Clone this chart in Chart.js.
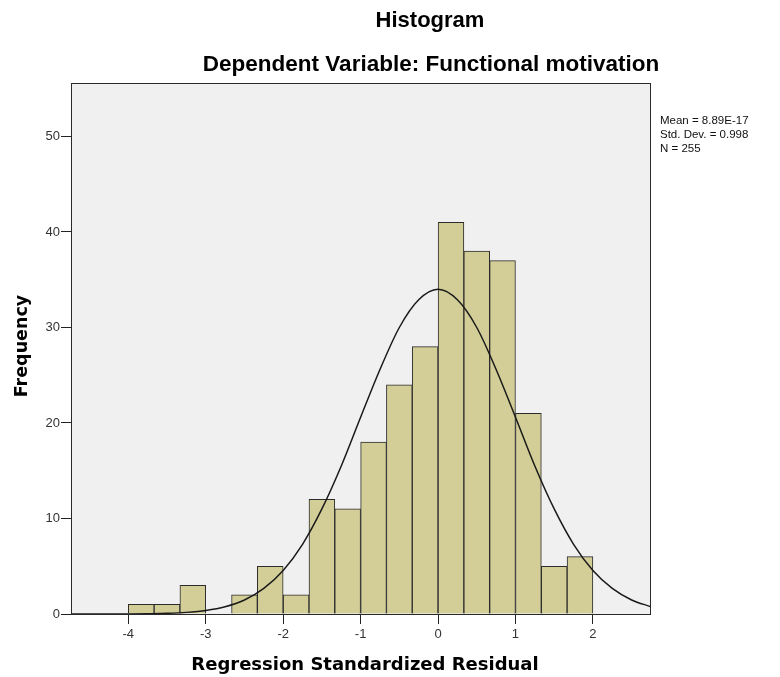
<!DOCTYPE html>
<html>
<head>
<meta charset="utf-8">
<script src="https://cdn.jsdelivr.net/npm/chart.js@4.4.1/dist/chart.umd.min.js"></script>
<style>
  html, body { margin: 0; padding: 0; background: #ffffff; }
  #wrap { position: relative; width: 780px; height: 677px; }
</style>
</head>
<body>
<div id="wrap"><canvas id="c" width="780" height="677"></canvas></div>
<script>
// ---- data ----
const binCenters = [-3.833, -3.5, -3.167, -2.833, -2.5, -2.167, -1.833, -1.5, -1.167,
                    -0.833, -0.5, -0.167, 0.167, 0.5, 0.833, 1.167, 1.5, 1.833];
const frequencies = [1, 1, 3, 0, 2, 5, 2, 12, 11, 18, 24, 28, 41, 38, 37, 21, 5, 6];

const curveX = [-4.75, -4.5, -4.25, -4, -3.75, -3.5, -3.25, -3, -2.75, -2.5, -2.25, -2,
                -1.75, -1.5, -1.25, -1, -0.75, -0.5, -0.25, 0, 0.25, 0.5, 0.75, 1,
                1.25, 1.5, 1.75, 2, 2.25, 2.5, 2.75];
const curveY = [0.0, 0.0, 0.0, 0.01, 0.03, 0.07, 0.17, 0.37, 0.76, 1.47, 2.68, 4.56,
                7.3, 11.0, 15.5, 20.6, 25.6, 30.0, 32.9, 34.0, 32.9, 30.0, 25.6, 20.6,
                15.5, 11.0, 7.3, 4.56, 2.68, 1.47, 0.76];

const xTickValues = [-4, -3, -2, -1, 0, 1, 2];
const yTickValues = [0, 10, 20, 30, 40, 50];

const titleText = 'Histogram';
const subtitleText = 'Dependent Variable: Functional motivation';
const xTitle = 'Regression Standardized Residual';
const yTitle = 'Frequency';
const statsLines = ['Mean = 8.89E-17', 'Std. Dev. = 0.998', 'N = 255'];

// ---- chart ----
const FONT = '"Liberation Sans", Arial, sans-serif';
const AXFONT = '"DejaVu Sans", Verdana, sans-serif';

const decor = {
  id: 'decor',
  beforeDraw(chart) {
    const { ctx, chartArea: a } = chart;
    ctx.save();
    ctx.fillStyle = '#f0f0f0';
    ctx.fillRect(a.left, a.top, a.right - a.left, a.bottom - a.top);
    ctx.restore();
  },
  afterDraw(chart) {
    const { ctx, chartArea: a } = chart;
    ctx.save();
    ctx.strokeStyle = '#2a2a2a';
    ctx.lineWidth = 1;
    ctx.strokeRect(a.left + 0.5, a.top + 0.5, a.right - a.left - 1, a.bottom - a.top);
    ctx.fillStyle = '#000';
    ctx.textAlign = 'center';
    ctx.textBaseline = 'middle';
    ctx.font = 'bold 22px ' + FONT;
    ctx.fillText(titleText, 430, 21);
    ctx.font = 'bold 22.5px ' + FONT;
    ctx.fillText(subtitleText, 431, 65);
    ctx.font = 'bold 18px ' + AXFONT;
    ctx.fillText(xTitle, 365, 665);
    ctx.font = 'bold 17.5px ' + AXFONT;
    ctx.save();
    ctx.translate(22, 346);
    ctx.rotate(-Math.PI / 2);
    ctx.fillText(yTitle, 0, 0);
    ctx.restore();
    ctx.font = '11.5px ' + FONT;
    ctx.textAlign = 'left';
    ctx.fillStyle = '#111';
    statsLines.forEach((s, i) => ctx.fillText(s, a.right + 9, 121 + i * 14));
    ctx.restore();
  }
};

new Chart(document.getElementById('c'), {
  data: {
    datasets: [
      {
        type: 'line',
        data: curveX.map((x, i) => ({ x, y: curveY[i] })),
        borderColor: '#1a1a1a',
        borderWidth: 1.5,
        pointRadius: 0,
        tension: 0.4,
        cubicInterpolationMode: 'monotone',
        order: 0
      },
      {
        type: 'bar',
        data: binCenters.map((x, i) => ({ x, y: frequencies[i] })),
        backgroundColor: '#d3ce97',
        borderColor: '#2b2b2b',
        borderWidth: 1,
        barPercentage: 1,
        categoryPercentage: 1,
        order: 1
      }
    ]
  },
  options: {
    responsive: false,
    animation: false,
    events: [],
    layout: { padding: { left: 0, top: 83, right: 129, bottom: 0 } },
    plugins: { legend: { display: false }, tooltip: { enabled: false }, title: { display: false } },
    scales: {
      x: {
        type: 'linear',
        offset: false,
        min: -4.74,
        max: 2.75,
        afterBuildTicks: s => { s.ticks = xTickValues.map(v => ({ value: v })); },
        afterFit: s => { s.height = 63; },
        grid: { offset: false, drawOnChartArea: false, drawTicks: true, tickLength: 10, color: '#222' },
        border: { display: false },
        ticks: { color: '#333', font: { family: FONT, size: 13 }, padding: 3, maxRotation: 0 }
      },
      y: {
        type: 'linear',
        min: 0,
        max: 55.6,
        afterBuildTicks: s => { s.ticks = yTickValues.map(v => ({ value: v })); },
        afterFit: s => { s.width = 71; },
        grid: { drawOnChartArea: false, drawTicks: true, tickLength: 10, color: '#222' },
        border: { display: false },
        ticks: { color: '#333', font: { family: FONT, size: 13 }, padding: 1 }
      }
    }
  },
  plugins: [decor]
});
</script>
</body>
</html>
